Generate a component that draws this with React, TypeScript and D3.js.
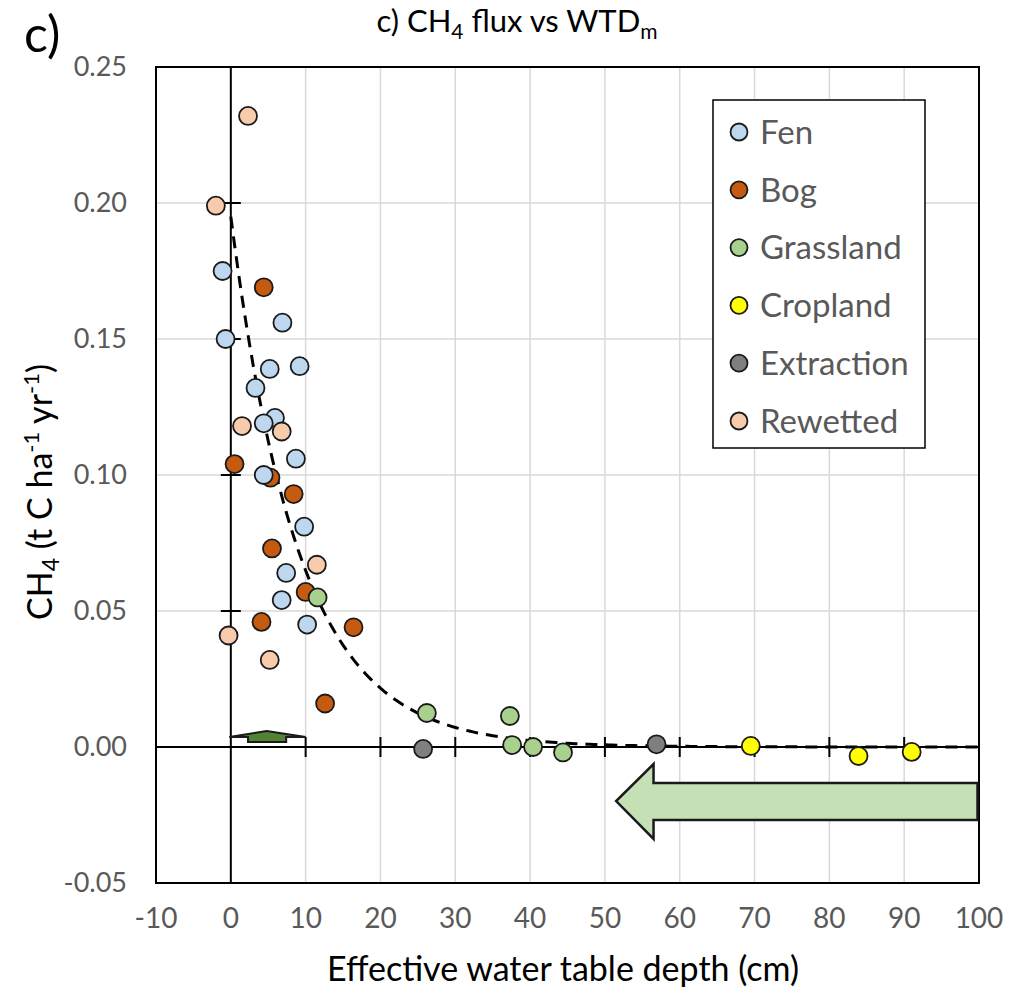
import React from "react";
import * as d3 from "d3";

const W = 1010;
const H = 996;

const xTicks = [-10, 0, 10, 20, 30, 40, 50, 60, 70, 80, 90, 100];
const yTicks = [-0.05, 0, 0.05, 0.1, 0.15, 0.2, 0.25];

const seriesNames = ["Fen", "Bog", "Grassland", "Cropland", "Extraction", "Rewetted"];
const seriesColors = ["#BDD7EE", "#C55A11", "#A9D18E", "#FFFF00", "#7F7F7F", "#F8CBAD"];

const fenX = [-1.1, -0.7, 6.9, 5.2, 9.2, 3.3, 5.9, 4.4, 8.7, 4.4, 9.8, 7.4, 6.8, 10.2];
const fenY = [0.175, 0.150, 0.156, 0.139, 0.140, 0.132, 0.121, 0.119, 0.106, 0.100, 0.081, 0.064, 0.054, 0.045];

const bogX = [4.4, 0.5, 5.3, 8.4, 5.5, 10.0, 4.1, 16.4, 12.6];
const bogY = [0.169, 0.104, 0.099, 0.093, 0.073, 0.057, 0.046, 0.044, 0.016];

const grassX = [11.6, 26.2, 37.3, 37.6, 40.4, 44.4];
const grassY = [0.055, 0.0125, 0.0114, 0.0007, 0.0, -0.002];

const cropX = [69.5, 83.9, 91.0];
const cropY = [0.0004, -0.0033, -0.0018];

const extrX = [25.7, 56.9];
const extrY = [-0.0007, 0.001];

const rewetX = [2.3, -2.0, 1.5, 6.8, 11.5, -0.3, 5.2];
const rewetY = [0.232, 0.199, 0.118, 0.116, 0.067, 0.041, 0.032];

// exponential trendline parameters (y = a * exp(-b x))
const trendA = 0.195;
const trendB = 0.11;

const FONT = "Lato, 'Open Sans', sans-serif";

export default function App() {
  const left = 156, right = 979, top = 67, bottom = 883;
  const x = d3.scaleLinear().domain([-10, 100]).range([left, right]);
  const y = d3.scaleLinear().domain([-0.05, 0.25]).range([bottom, top]);

  const seriesX = [fenX, bogX, grassX, cropX, extrX, rewetX];
  const seriesY = [fenY, bogY, grassY, cropY, extrY, rewetY];
  const drawOrder = [1, 0, 2, 3, 4, 5];

  const trendPts = d3.range(0, 100.01, 0.5).map((v) => [v, trendA * Math.exp(-trendB * v)] as [number, number]);
  const line = d3.line<[number, number]>().x((d) => x(d[0])).y((d) => y(d[1]));

  const gridY = yTicks.filter((t) => t !== 0 && t !== -0.05 && t !== 0.25);
  const gridX = xTicks.filter((t) => t !== 0 && t !== -10 && t !== 100);

  // big arrow pointing left
  const arrow = [
    [99.8, -0.0132], [56.5, -0.0132], [56.5, -0.00625], [51.5, -0.0199],
    [56.5, -0.0338], [56.5, -0.0268], [99.8, -0.0268],
  ];
  const arrowPath = "M" + arrow.map((p) => `${x(p[0])},${y(p[1])}`).join("L") + "Z";

  // small marker near origin
  const small = [
    [-0.2, 0.0037], [4.8, 0.0059], [10.0, 0.0037], [7.4, 0.0037],
    [7.4, 0.0018], [2.3, 0.0018], [2.3, 0.0037],
  ];
  const smallPath = "M" + small.map((p) => `${x(p[0])},${y(p[1])}`).join("L") + "Z";

  const legX = 713, legY = 100, legW = 212, legH = 348;

  return (
    <svg width={W} height={H} style={{ position: "absolute", left: 0, top: 0, background: "#fff" }}>
      <rect width={W} height={H} fill="#fff" />
      {/* gridlines */}
      {gridX.map((t) => (
        <line key={"gx" + t} x1={x(t)} x2={x(t)} y1={top} y2={bottom} stroke="#D9D9D9" strokeWidth={1.5} />
      ))}
      {gridY.map((t) => (
        <line key={"gy" + t} x1={left} x2={right} y1={y(t)} y2={y(t)} stroke="#D9D9D9" strokeWidth={1.5} />
      ))}
      {/* frame */}
      <rect x={left} y={top} width={right - left} height={bottom - top} fill="none" stroke="#000" strokeWidth={2} />
      {/* axes at zero */}
      <line x1={x(0)} x2={x(0)} y1={top} y2={bottom} stroke="#000" strokeWidth={2} />
      <line x1={left} x2={right} y1={y(0)} y2={y(0)} stroke="#000" strokeWidth={2} />
      {yTicks.filter((t) => t !== 0).map((t) => (
        <line key={"yt" + t} x1={x(0) - 10} x2={x(0) + 10} y1={y(t)} y2={y(t)} stroke="#000" strokeWidth={2} />
      ))}
      {xTicks.filter((t) => t !== 0).map((t) => (
        <line key={"xt" + t} x1={x(t)} x2={x(t)} y1={y(0) - 10} y2={y(0) + 10} stroke="#000" strokeWidth={2} />
      ))}
      {/* tick labels */}
      {yTicks.map((t) => (
        <text key={"yl" + t} x={127} y={y(t)} dy="0.35em" textAnchor="end" fontFamily={FONT} fontSize={27} fill="#595959">
          {d3.format(".2f")(t).replace("−", "-")}
        </text>
      ))}
      {xTicks.map((t) => (
        <text key={"xl" + t} x={x(t)} y={918} dy="0.35em" textAnchor="middle" fontFamily={FONT} fontSize={28} fill="#595959">
          {String(t)}
        </text>
      ))}
      {/* annotations */}
      <path d={smallPath} fill="#548235" stroke="#1a1a1a" strokeWidth={2} strokeLinejoin="miter" />
      <path d={arrowPath} fill="#C5E0B4" stroke="#1a1a1a" strokeWidth={2.5} />
      {/* trendline */}
      <path d={line(trendPts) || ""} fill="none" stroke="#000" strokeWidth={3} strokeDasharray="12,8" />
      {/* points */}
      {drawOrder.map((si) =>
        seriesX[si].map((vx, i) => (
          <circle key={si + "-" + i} cx={x(vx)} cy={y(seriesY[si][i])} r={9} fill={seriesColors[si]} stroke="#1a1a1a" strokeWidth={1.8} />
        ))
      )}
      {/* legend */}
      <rect x={legX} y={legY} width={legW} height={legH} fill="#fff" stroke="#000" strokeWidth={1.5} />
      {seriesNames.map((n, i) => (
        <g key={n} transform={`translate(0, ${132 + i * 57.8})`}>
          <circle cx={739} cy={0} r={8.5} fill={seriesColors[i]} stroke="#1a1a1a" strokeWidth={1.8} />
          <text x={760} y={0} dy="0.36em" fontFamily={FONT} fontSize={33} fill="#595959">{n}</text>
        </g>
      ))}
      {/* titles */}
      <text x={24} y={52} fontFamily={FONT} fontSize={50} fill="#000">c)</text>
      <text x={517} y={32} textAnchor="middle" fontFamily={FONT} fontSize={31} fill="#000">
        c) CH<tspan fontSize={21} dy={7}>4</tspan><tspan dy={-7}> flux vs WTD</tspan><tspan fontSize={21} dy={7}>m</tspan>
      </text>
      <text x={563} y={981} textAnchor="middle" fontFamily={FONT} fontSize={34} fill="#000">
        Effective water table depth (cm)
      </text>
      <text transform={`translate(52, 492) rotate(-90)`} textAnchor="middle" fontFamily={FONT} fontSize={34} fill="#000">
        CH<tspan fontSize={23} dy={7}>4</tspan><tspan dy={-7}> (t C ha</tspan><tspan fontSize={22} dy={-13}>-1</tspan><tspan dy={13}> yr</tspan><tspan fontSize={22} dy={-13}>-1</tspan><tspan dy={13}>)</tspan>
      </text>
    </svg>
  );
}
